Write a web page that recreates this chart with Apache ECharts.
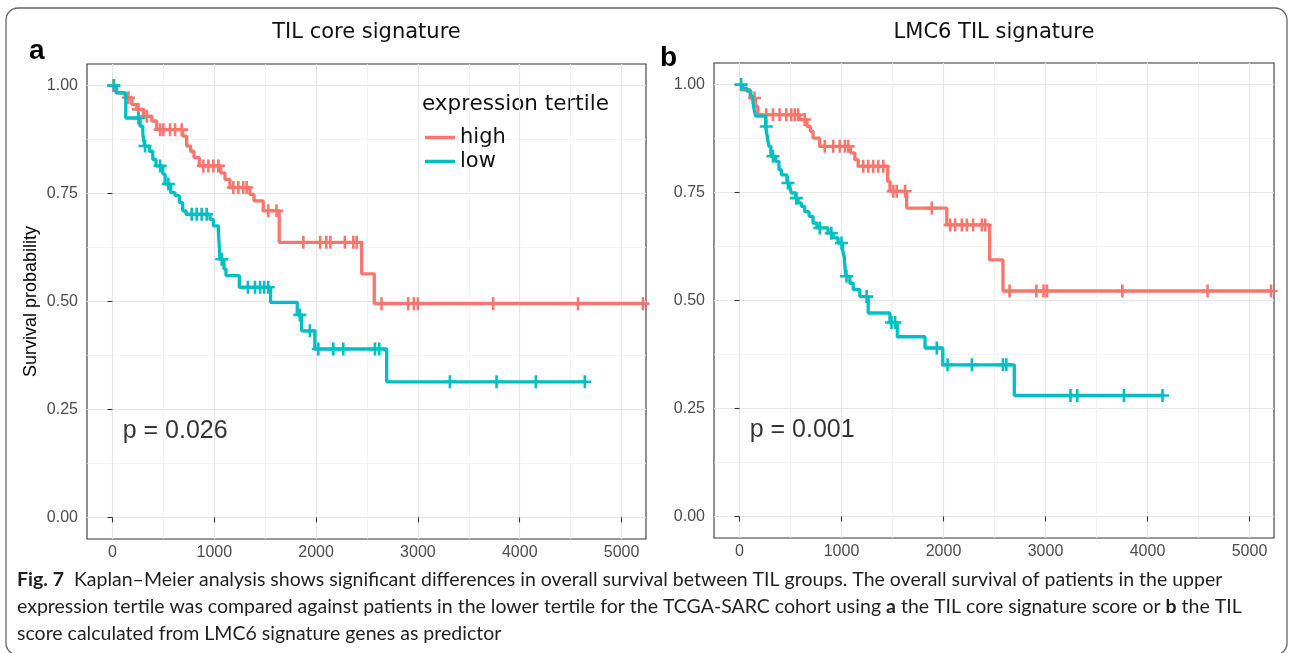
<!DOCTYPE html>
<html><head><meta charset="utf-8">
<script src="https://cdn.jsdelivr.net/npm/echarts@6/dist/echarts.min.js"></script>
<style>html,body{margin:0;padding:0;background:#fff}#c{width:1290px;height:653px}</style>
</head><body><div id="c"></div>
<script>
const panelTitles = ['TIL core signature', 'LMC6 TIL signature'];
const panelLetters = ['a', 'b'];
const pValues = ['p = 0.026', 'p = 0.001'];
const groupNames = ['high', 'low'];
const legendTitle = 'expression tertile';
const yAxisTitle = 'Survival probability';
const xTicks = [0, 1000, 2000, 3000, 4000, 5000];
const yTicks = [0, 0.25, 0.5, 0.75, 1];
const xMinor = [500, 1500, 2500, 3500, 4500];
const yMinor = [0.125, 0.375, 0.625, 0.875];
const captionLines = [
  '{b|Fig. 7}  Kaplan–Meier analysis shows significant differences in overall survival between TIL groups. The overall survival of patients in the upper',
  'expression tertile was compared against patients in the lower tertile for the TCGA-SARC cohort using {b|a} the TIL core signature score or {b|b} the TIL',
  'score calculated from LMC6 signature genes as predictor'
];

// Panel a: TIL core signature
const aHighTime = [0, 42, 124, 190, 239, 304, 386, 435, 690, 729, 768, 801, 853, 1063, 1105, 1154, 1350, 1390, 1481, 1638, 2447, 2571, 5211];
const aHighSurv = [1, 0.983, 0.972, 0.956, 0.945, 0.929, 0.918, 0.898, 0.883, 0.86, 0.848, 0.833, 0.814, 0.798, 0.783, 0.764, 0.748, 0.733, 0.71, 0.637, 0.564, 0.495, 0.495];
const aHighCensTime = [10, 157, 255, 337, 468, 500, 566, 615, 680, 893, 942, 991, 1040, 1187, 1236, 1285, 1318, 1530, 1612, 1875, 2040, 2100, 2140, 2283, 2365, 2398, 2643, 2905, 2960, 3000, 3739, 4573, 5211];
const aHighCensSurv = [1, 0.972, 0.945, 0.929, 0.898, 0.898, 0.898, 0.898, 0.898, 0.814, 0.814, 0.814, 0.814, 0.764, 0.764, 0.764, 0.764, 0.71, 0.71, 0.637, 0.637, 0.637, 0.637, 0.637, 0.637, 0.637, 0.495, 0.495, 0.495, 0.495, 0.495, 0.495, 0.495];
const aLowTime = [0, 36, 131, 271, 298, 317, 363, 396, 428, 494, 517, 572, 615, 657, 690, 723, 958, 991, 1040, 1056, 1095, 1115, 1246, 1553, 1815, 1857, 1988, 2693, 4639];
const aLowSurv = [1, 0.983, 0.925, 0.906, 0.887, 0.86, 0.848, 0.829, 0.814, 0.795, 0.772, 0.752, 0.745, 0.729, 0.71, 0.702, 0.69, 0.675, 0.664, 0.598, 0.575, 0.56, 0.533, 0.498, 0.469, 0.432, 0.39, 0.314, 0.314];
const aLowCensTime = [15, 255, 320, 468, 549, 778, 827, 876, 925, 1073, 1330, 1400, 1450, 1490, 1530, 1840, 1939, 2022, 2169, 2267, 2578, 2620, 3314, 3772, 4158, 4639];
const aLowCensSurv = [1, 0.925, 0.86, 0.814, 0.772, 0.702, 0.702, 0.702, 0.702, 0.598, 0.533, 0.533, 0.533, 0.533, 0.533, 0.469, 0.432, 0.39, 0.39, 0.39, 0.39, 0.39, 0.314, 0.314, 0.314, 0.314];

// Panel b: LMC6 TIL signature
const bHighTime = [0, 33, 105, 157, 180, 590, 662, 695, 721, 787, 1088, 1131, 1164, 1452, 1475, 1639, 2032, 2452, 2583, 5220];
const bHighSurv = [1, 0.988, 0.969, 0.95, 0.93, 0.919, 0.903, 0.892, 0.876, 0.857, 0.842, 0.826, 0.811, 0.776, 0.753, 0.714, 0.675, 0.594, 0.522, 0.522];
const bHighCensTime = [147, 262, 328, 393, 459, 508, 541, 574, 639, 836, 918, 983, 1033, 1065, 1213, 1262, 1311, 1360, 1410, 1508, 1541, 1623, 1885, 2065, 2114, 2180, 2229, 2290, 2376, 2409, 2648, 2910, 2981, 3014, 3753, 4589, 5211];
const bHighCensSurv = [0.969, 0.93, 0.93, 0.93, 0.93, 0.93, 0.93, 0.93, 0.919, 0.857, 0.857, 0.857, 0.857, 0.857, 0.811, 0.811, 0.811, 0.811, 0.811, 0.753, 0.753, 0.753, 0.714, 0.675, 0.675, 0.675, 0.675, 0.675, 0.675, 0.675, 0.522, 0.522, 0.522, 0.522, 0.522, 0.522, 0.522];
const bLowTime = [0, 26, 72, 111, 131, 144, 157, 256, 272, 288, 308, 354, 387, 410, 465, 492, 508, 551, 574, 606, 639, 682, 721, 760, 869, 918, 967, 1010, 1026, 1042, 1082, 1115, 1180, 1262, 1475, 1547, 1819, 1993, 2694, 4163];
const bLowSurv = [1, 0.992, 0.985, 0.973, 0.961, 0.942, 0.927, 0.903, 0.88, 0.857, 0.834, 0.822, 0.803, 0.791, 0.772, 0.764, 0.749, 0.737, 0.726, 0.718, 0.706, 0.695, 0.679, 0.668, 0.656, 0.645, 0.633, 0.617, 0.602, 0.556, 0.54, 0.525, 0.509, 0.471, 0.449, 0.416, 0.39, 0.351, 0.28, 0.28];
const bLowCensTime = [16, 262, 328, 475, 557, 787, 900, 1000, 1049, 1246, 1490, 1525, 1934, 2040, 2278, 2583, 2616, 3245, 3311, 3769, 4147];
const bLowCensSurv = [1, 0.903, 0.834, 0.772, 0.737, 0.668, 0.656, 0.633, 0.556, 0.509, 0.449, 0.449, 0.39, 0.351, 0.351, 0.351, 0.351, 0.28, 0.28, 0.28, 0.28];

const pvalTime = 100, pvalSurv = 0.2;

const COLORS = ['#F8766D', '#00BFC4'];
const TICKFONT = 'Liberation Sans';
const zip = (a, b) => a.map((v, i) => [v, b[i]]);
const plusPath = 'path://M-1.2,-6 L1.2,-6 L1.2,-1.2 L6,-1.2 L6,1.2 L1.2,1.2 L1.2,6 L-1.2,6 L-1.2,1.2 L-6,1.2 L-6,-1.2 L-1.2,-1.2 Z';

const panels = [
  { curves: [[aHighTime, aHighSurv, aHighCensTime, aHighCensSurv], [aLowTime, aLowSurv, aLowCensTime, aLowCensSurv]] },
  { curves: [[bHighTime, bHighSurv, bHighCensTime, bHighCensSurv], [bLowTime, bLowSurv, bLowCensTime, bLowCensSurv]] }
];
const grids = [
  { left: 87, top: 64, width: 559, height: 475 },
  { left: 714, top: 63, width: 560, height: 475 }
];

const xAxes = [], yAxes = [], series = [];
grids.forEach((g, gi) => {
  xAxes.push({
    gridIndex: gi, type: 'value', min: -250, max: 5240,
    axisLine: { show: false },
    axisTick: { show: true, length: 5, customValues: xTicks, lineStyle: { color: '#333', width: 1.1 } },
    axisLabel: { customValues: xTicks, fontSize: 16, color: '#4D4D4D', fontFamily: TICKFONT, margin: 6,
      formatter: v => String(Math.round(v)) },
    splitLine: { show: true, lineStyle: { color: '#E6E6E6', width: 1.2 } }
  });
  xAxes.push({
    gridIndex: gi, type: 'value', min: -250, max: 5240, position: 'bottom',
    axisLine: { show: false },
    axisTick: { show: false, customValues: xMinor },
    axisLabel: { show: false, customValues: xMinor },
    splitLine: { show: true, lineStyle: { color: '#F0F0F0', width: 0.8 } }
  });
  yAxes.push({
    gridIndex: gi, type: 'value', min: -0.05, max: 1.05,
    name: gi === 0 ? yAxisTitle : '', nameLocation: 'middle', nameGap: 47,
    nameTextStyle: { fontSize: 18, color: '#000', fontFamily: TICKFONT },
    axisLine: { show: false },
    axisTick: { show: true, length: 5, customValues: yTicks, lineStyle: { color: '#333', width: 1.1 } },
    axisLabel: { customValues: yTicks, fontSize: 16, color: '#4D4D4D', fontFamily: TICKFONT, margin: 9,
      formatter: v => Number(v).toFixed(2) },
    splitLine: { show: true, lineStyle: { color: '#E6E6E6', width: 1.2 } }
  });
  yAxes.push({
    gridIndex: gi, type: 'value', min: -0.05, max: 1.05, position: 'left',
    axisLine: { show: false },
    axisTick: { show: false, customValues: yMinor },
    axisLabel: { show: false, customValues: yMinor },
    splitLine: { show: true, lineStyle: { color: '#F0F0F0', width: 0.8 } }
  });
  const xi = gi * 2, yi = gi * 2;
  panels[gi].curves.forEach((c, ci) => {
    series.push({
      name: groupNames[ci], type: 'line', step: 'end', xAxisIndex: xi, yAxisIndex: yi,
      data: zip(c[0], c[1]), symbol: 'none', showSymbol: false,
      itemStyle: { color: COLORS[ci] },
      lineStyle: { color: COLORS[ci], width: 3.3 },
      z: 3 + ci, silent: true
    });
    series.push({
      name: groupNames[ci] + ' censored ' + panelLetters[gi], type: 'scatter', xAxisIndex: xi, yAxisIndex: yi,
      data: zip(c[2], c[3]), symbol: plusPath, symbolSize: 13,
      itemStyle: { color: COLORS[ci], opacity: 1 },
      z: 3 + ci, silent: true
    });
  });
  series.push({
    name: 'pval ' + panelLetters[gi], type: 'scatter', xAxisIndex: xi, yAxisIndex: yi,
    data: [[pvalTime, pvalSurv]], symbolSize: 0, silent: true,
    label: { show: true, position: 'right', distance: 0, formatter: pValues[gi],
      fontSize: 25, color: '#000', fontFamily: TICKFONT }
  });
});

const chart = echarts.init(document.getElementById('c'), null, { renderer: 'canvas' });
chart.setOption({
  animation: false,
  backgroundColor: '#fff',
  grid: grids.map(g => Object.assign({ show: true, borderColor: '#333', borderWidth: 1.1, backgroundColor: 'transparent', containLabel: false }, g)),
  xAxis: xAxes,
  yAxis: yAxes,
  title: panelTitles.map((t, i) => ({
    text: t, left: grids[i].left + grids[i].width / 2, top: 22, textAlign: 'center', padding: 0,
    textStyle: { fontFamily: 'DejaVu Sans', fontSize: 21, fontWeight: 'normal', color: '#111' }
  })),
  legend: {
    data: groupNames, orient: 'vertical', left: 425, top: 127, padding: 0,
    icon: 'rect', itemWidth: 30, itemHeight: 3.5, itemGap: 3, selectedMode: false,
    textStyle: { fontFamily: 'DejaVu Sans', fontSize: 21, color: '#111', lineHeight: 20 }
  },
  graphic: [
    { type: 'rect', shape: { x: 6, y: 8, width: 1281, height: 647, r: 12 }, silent: true,
      style: { fill: 'none', stroke: '#666', lineWidth: 1.3 }, z: 100 },
    { type: 'text', x: 422, y: 104, silent: true,
      style: { text: legendTitle, fontFamily: 'DejaVu Sans', fontSize: 21.5, fill: '#111', verticalAlign: 'middle' } },
    { type: 'text', x: 29, y: 51, silent: true,
      style: { text: panelLetters[0], fontFamily: 'Liberation Sans', fontWeight: 'bold', fontSize: 28, fill: '#000', verticalAlign: 'middle' } },
    { type: 'text', x: 660, y: 58, silent: true,
      style: { text: panelLetters[1], fontFamily: 'Liberation Sans', fontWeight: 'bold', fontSize: 28, fill: '#000', verticalAlign: 'middle' } }
  ].concat(captionLines.map((line, i) => ({
    type: 'text', x: 17, y: 580 + i * 27, silent: true,
    style: { text: line, fontFamily: 'Lato', fontSize: 19.5, fill: '#231F20', verticalAlign: 'middle',
      rich: { b: { fontFamily: 'Lato', fontSize: 19.5, fontWeight: 'bold', fill: '#231F20' } } }
  }))),
  series: series
});
</script></body></html>
